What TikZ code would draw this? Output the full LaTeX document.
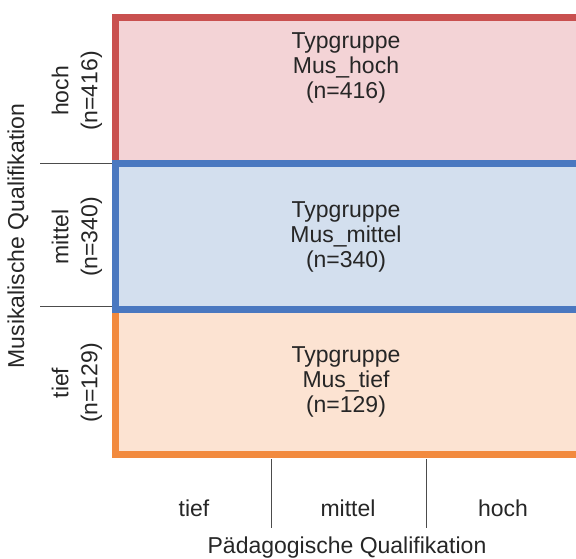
\documentclass[tikz,border=0pt]{standalone}
\usepackage{fontspec}
\setmainfont{Liberation Sans}
\usetikzlibrary{positioning}
\definecolor{rotrand}{HTML}{C9504F}
\definecolor{rotfill}{HTML}{F3D3D6}
\definecolor{blaurand}{HTML}{4A78C0}
\definecolor{blaufill}{HTML}{D3DFEE}
\definecolor{orangerand}{HTML}{F28A3E}
\definecolor{orangefill}{HTML}{FCE3D2}
\tikzset{
  gruppe/.style={line width=7pt},
  txt/.style={align=center, font=\fontsize{23}{25}\selectfont, text=black!85},
  achse/.style={font=\fontsize{23}{25}\selectfont, text=black!85},
  stufe/.style={align=center, rotate=90, font=\fontsize{23}{29}\selectfont, text=black!85},
  trenn/.style={black!70, line width=0.8pt}
}

\begin{document}
\begin{tikzpicture}[x=1pt, y=-1pt]
		\useasboundingbox (0,0) rectangle (576,558);
		% Typgruppen (rechter Rand liegt ausserhalb)
		\draw[gruppe, draw=rotrand, fill=rotfill] (115.5,17.5) rectangle (581,163.5);
		\draw[gruppe, draw=orangerand, fill=orangefill] (115.5,309) rectangle (581,454.5);
		\draw[gruppe, draw=blaurand, fill=blaufill] (115.5,163.5) rectangle (581,309);
		\node[txt] (hochtxt) at (346,68) {Typgruppe\\Mus\_hoch\\(n=416)};
		\node[txt] (mitteltxt) at (346,237) {Typgruppe\\Mus\_mittel\\(n=340)};
		\node[txt] (tieftxt) at (346,382) {Typgruppe\\Mus\_tief\\(n=129)};
		% y-Achse
		\node[achse, rotate=90] (musik) at (18,236) {Musikalische Qualifikation};
		\node[stufe] (yhoch) at (77,91) {hoch\\(n=416)};
		\node[stufe] (ymittel) at (77,237) {mittel\\(n=340)};
		\node[stufe] (ytief) at (77,383) {tief\\(n=129)};
		\coordinate (ya) at (40,163.5);
		\coordinate (yb) at (40,306);
		\draw[trenn] (ya) -- (ya -| 112,0);
		\draw[trenn] (yb) -- (yb -| 112,0);
		% x-Achse
		\node[achse] (xtief) at (194,508) {tief};
		\node[achse] (xmittel) at (348,508) {mittel};
		\node[achse] (xhoch) at (503,508) {hoch};
		\node[achse] (paed) at (347,548) {Pädagogische Qualifikation};
		\coordinate (xa) at (271,459);
		\coordinate (xb) at (426,459);
		\draw[trenn] (xa) -- ++(0,69);
		\draw[trenn] (xb) -- ++(0,69);
	\end{tikzpicture}
\end{document}
